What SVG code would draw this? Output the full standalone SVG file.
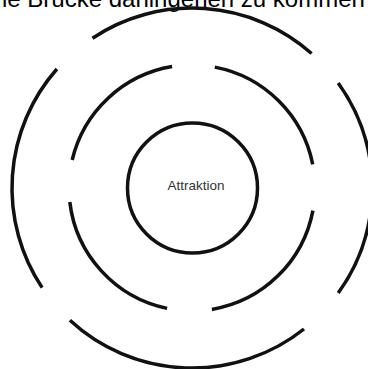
<svg xmlns="http://www.w3.org/2000/svg" width="368" height="369" viewBox="0 0 368 369">
<style>
.ring{fill:none;stroke:#111;stroke-width:3.5;stroke-linecap:butt}
.lbl{font-family:"Liberation Sans",Arial,sans-serif;fill:#333}
</style>
<rect width="368" height="369" fill="#fff"/>
<text class="lbl" x="2" y="7" font-size="24" fill="#000" style="fill:#000">ie Brücke dahingehen zu kommen</text>
<g id="outer-ring">
<path class="ring" d="M92.5,38.2 A180,180 0 0 1 311.6,53.5"/>
<path class="ring" d="M338.2,82.9 A180,180 0 0 1 338.2,293.1"/>
<path class="ring" d="M304,329 A180,180 0 0 1 69.9,320.2"/>
<path class="ring" d="M42.1,287.6 A180,180 0 0 1 56.9,69"/>
</g>
<g id="middle-ring">
<path class="ring" d="M72.2,160 A123.5,123.5 0 0 1 172.1,66.6"/>
<path class="ring" d="M214.8,67.1 A123.5,123.5 0 0 1 312.7,164.3"/>
<path class="ring" d="M312.9,210.6 A123.5,123.5 0 0 1 211.9,309.4"/>
<path class="ring" d="M167.1,308.4 A123.5,123.5 0 0 1 69.8,202"/>
</g>
<g id="attraktion">
<circle class="ring" cx="192.5" cy="188" r="65"/>
<text class="lbl" x="196" y="190" font-size="13.5" text-anchor="middle">Attraktion</text>
</g>
</svg>
